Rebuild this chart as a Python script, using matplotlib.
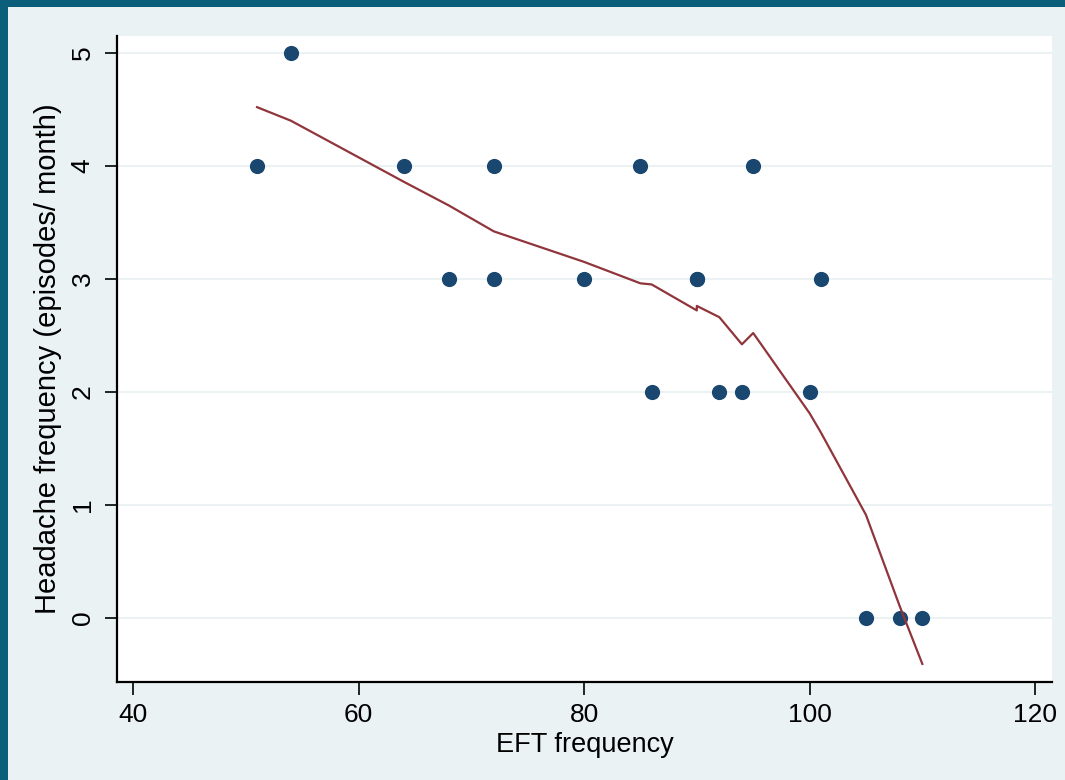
import matplotlib.pyplot as plt
from matplotlib.patches import Rectangle

# data
eft = [51, 54, 64, 68, 72, 72, 80, 85, 86, 90, 90, 92, 94, 95, 100, 101, 105, 108, 110]
headache = [4, 5, 4, 3, 4, 3, 3, 4, 2, 3, 3, 2, 2, 4, 2, 3, 0, 0, 0]

# lowess smooth (estimated vertices)
lowess_x = [51, 54, 64, 68, 72, 80, 85, 86, 90, 90, 92, 94, 95, 100, 101, 105, 108, 110]
lowess_y = [4.52, 4.40, 3.86, 3.65, 3.42, 3.15, 2.96, 2.95, 2.72, 2.76, 2.66, 2.42, 2.52,
            1.81, 1.64, 0.91, 0.10, -0.41]

xticks = [40, 60, 80, 100, 120]
yticks = [0, 1, 2, 3, 4, 5]

bg = '#eaf2f3'
navy = '#1a476f'
maroon = '#90353b'

plt.rcParams['font.family'] = ['Liberation Sans', 'DejaVu Sans']

fig = plt.figure(figsize=(10.65, 7.8), dpi=100)
fig.patch.set_facecolor(bg)

# dark frame on the top and left edges
fig.patches.append(Rectangle((0, 1 - 7 / 780), 1, 7 / 780, transform=fig.transFigure,
                             facecolor='#0b5f7a', edgecolor='none'))
fig.patches.append(Rectangle((0, 0), 8 / 1065, 1, transform=fig.transFigure,
                             facecolor='#0b5f7a', edgecolor='none'))

ax = fig.add_axes([117 / 1065, 1 - 682 / 780, (1052 - 117) / 1065, (682 - 36) / 780])
ax.set_facecolor('white')

ax.grid(axis='y', color=bg, linewidth=1.5)
ax.set_axisbelow(True)

ax.scatter(eft, headache, s=120, color=navy, zorder=3, linewidths=0)
ax.plot(lowess_x, lowess_y, color=maroon, linewidth=1.6, zorder=4)

ax.set_xlim(38.58, 121.5)
ax.set_ylim(-0.57, 5.15)
ax.set_xticks(xticks)
ax.set_yticks(yticks)
ax.set_yticklabels([str(v) for v in yticks], rotation=90, va='center')

for s in ['top', 'right']:
    ax.spines[s].set_visible(False)
for s in ['left', 'bottom']:
    ax.spines[s].set_linewidth(1.6)
    ax.spines[s].set_color('black')

ax.tick_params(axis='both', direction='out', length=9, width=1.2, labelsize=19, colors='black')
ax.tick_params(axis='x', pad=6)
ax.tick_params(axis='y', pad=7)

ax.set_xlabel('EFT frequency', fontsize=19.5, labelpad=4)
ax.set_ylabel('Headache frequency (episodes/ month)', fontsize=21, labelpad=6)

plt.savefig('out.png', dpi=100, facecolor=fig.get_facecolor())
